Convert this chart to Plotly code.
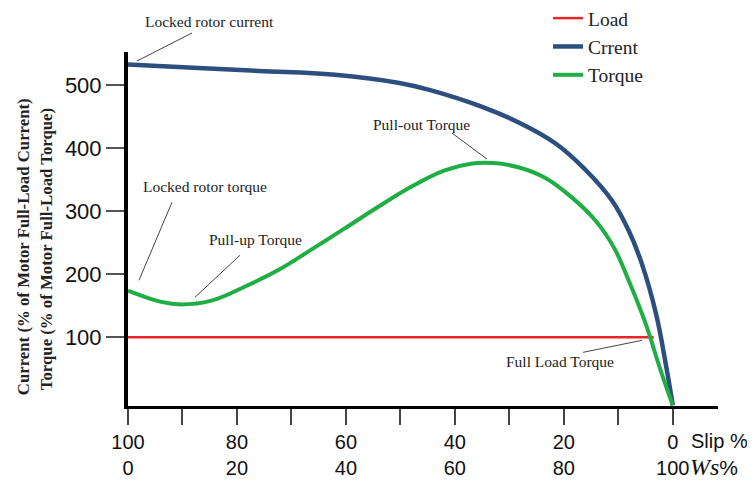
import plotly.graph_objects as go

# ---- data ----
slip_current = [100, 88, 76, 62, 50.2, 44.7, 35.6, 28.2, 21.5, 16.0, 11.2, 8.1, 5.7, 3.1, 1.3, 0]
current = [532, 527, 522, 516, 503, 492, 467, 440, 407, 365, 317, 269, 217, 138, 58, -8]

slip_torque = [100, 93.9, 90.2, 84.7, 78.6, 72.5, 66.5, 60.3, 54.2, 48.1, 42.0, 37.1, 32.9,
               28.2, 23.3, 18.6, 14.2, 10.8, 8.1, 5.0, 2.4, 0]
torque = [174, 156, 152, 158, 180, 206, 238, 272, 306, 338, 364, 375, 376,
          369, 352, 322, 285, 242, 190, 122, 52, -8]

slip_load = [100, 3.5]
load = [100, 100]

x_tick_vals = [100, 90, 80, 70, 60, 50, 40, 30, 20, 10, 0]
x_tick_text = ["100<br>0", "", "80<br>20", "", "60<br>40", "", "40<br>60", "", "20<br>80", "", "0<br>100"]
y_tick_vals = [100, 200, 300, 400, 500]

colors = {"Load": "#e8262a", "Crrent": "#2d4f80", "Torque": "#1fae43"}

# the page body adds an 8px margin, so the figure is drawn 8px smaller
OFF = 8
FIG_W, FIG_H = 755 - OFF, 481 - OFF
PLOT_L, PLOT_R, PLOT_T, PLOT_B = 128, 718, 52, 405.6   # page pixels of the plot area
W, H = PLOT_R - PLOT_L, PLOT_B - PLOT_T
def px(x): return (x - PLOT_L) / W
def py(y): return (PLOT_B - y) / H

callouts = [
    ("Locked rotor current", 209, 22),
    ("Locked rotor torque", 205, 186),
    ("Pull-up Torque", 255, 239),
    ("Pull-out Torque", 421, 124),
    ("Full Load Torque", 560, 361),
]
leaders = [
    (192, 33, 137, 61),
    (172, 202, 139, 280),
    (240, 255, 195, 297),
    (452, 133, 487, 159),
    (583, 352, 642, 340),
]

fig = go.Figure()
fig.add_trace(go.Scatter(x=slip_load, y=load, mode="lines", name="Load",
                         line=dict(color=colors["Load"], width=2.5)))
fig.add_trace(go.Scatter(x=slip_current, y=current, mode="lines", name="Crrent",
                         line=dict(color=colors["Crrent"], width=4.5, shape="spline", smoothing=1.2)))
fig.add_trace(go.Scatter(x=slip_torque, y=torque, mode="lines", name="Torque",
                         line=dict(color=colors["Torque"], width=4, shape="spline", smoothing=1.1)))

annotations = []
for text, x, y in callouts:
    annotations.append(dict(text=text, x=px(x), y=py(y), xref="paper", yref="paper",
                            xanchor="center", yanchor="middle", showarrow=False,
                            font=dict(family="Liberation Serif", size=15.5, color="#222")))
annotations.append(dict(text="Slip %", x=px(689), y=py(441), xref="paper", yref="paper",
                        xanchor="left", yanchor="middle", showarrow=False,
                        font=dict(family="Liberation Sans", size=20, color="#111")))
annotations.append(dict(text="<span style='font-family:Liberation Serif;font-size:24px'><i>Ws</i></span>%",
                        x=px(688), y=py(467), xref="paper", yref="paper",
                        xanchor="left", yanchor="middle", showarrow=False,
                        font=dict(family="Liberation Sans", size=21, color="#111")))
annotations.append(dict(text="<b>Current (% of Motor Full-Load Current)</b>", x=0, xshift=23 - PLOT_L,
                        y=py(247), xref="paper", yref="paper", textangle=-90, showarrow=False,
                        xanchor="center", yanchor="middle",
                        font=dict(family="Liberation Serif", size=16.8, color="#222")))
annotations.append(dict(text="<b>Torque (% of Motor Full-Load Torque)</b>", x=0, xshift=46 - PLOT_L,
                        y=py(249), xref="paper", yref="paper", textangle=-90, showarrow=False,
                        xanchor="center", yanchor="middle",
                        font=dict(family="Liberation Serif", size=16.8, color="#222")))

shapes = []
for x0, y0, x1, y1 in leaders:
    shapes.append(dict(type="line", xref="paper", yref="paper", x0=px(x0), y0=py(y0),
                       x1=px(x1), y1=py(y1), line=dict(color="#444", width=1)))

fig.update_layout(
    template="none",
    width=FIG_W, height=FIG_H,
    font=dict(family="Liberation Sans"),
    margin=dict(l=PLOT_L - OFF, r=755 - PLOT_R, t=PLOT_T - OFF, b=481 - PLOT_B, autoexpand=False),
    paper_bgcolor="white", plot_bgcolor="white",
    showlegend=True,
    legend=dict(x=px(548), y=py(-1), xanchor="left", yanchor="top", tracegroupgap=0,
                font=dict(family="Liberation Serif", size=19.5, color="#222"),
                bgcolor="rgba(0,0,0,0)", borderwidth=0),
    annotations=annotations,
    shapes=shapes,
    xaxis=dict(range=[100, -8.3], tickvals=x_tick_vals, ticktext=x_tick_text, automargin=False,
               showline=True, linecolor="black", linewidth=3, showgrid=False, zeroline=False,
               ticks="outside", ticklen=16, tickwidth=2, tickcolor="#444",
               tickfont=dict(family="Liberation Sans", size=20, color="#111")),
    yaxis=dict(range=[-9, 552], tickvals=y_tick_vals, automargin=False,
               showline=True, linecolor="black", linewidth=4, showgrid=False, zeroline=False,
               ticks="outside", ticklen=18, tickwidth=1.5, tickcolor="#555",
               tickfont=dict(family="Liberation Sans", size=22, color="#111")),
)

fig.write_html("out.html")
